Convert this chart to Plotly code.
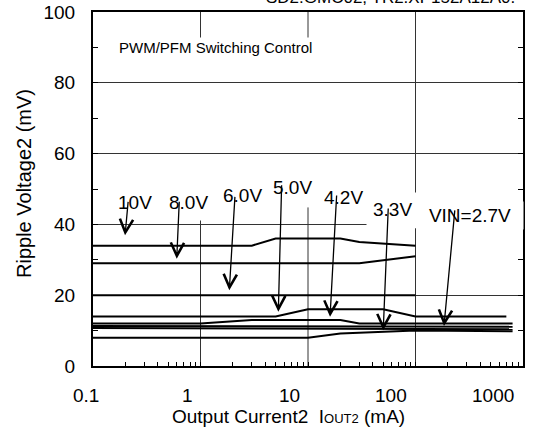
import math
import plotly.graph_objects as go

# ripple voltage (mV) vs output current (mA)
i_10v = [0.1, 3, 5, 20, 30, 100]
v_10v = [34, 34, 36, 36, 35, 34]
i_8v = [0.1, 30, 100]
v_8v = [29, 29, 31]
i_6v = [0.1, 100]
v_6v = [20, 20]
i_5v = [0.1, 5, 10, 50, 100, 700]
v_5v = [14, 14, 16, 16, 14, 14]
i_42v = [0.1, 1, 3, 20, 30, 800]
v_42v = [12, 12, 13, 13, 12, 12]
i_33v = [0.1, 800]
v_33v = [11.3, 11.1]
i_27v = [0.1, 800]
v_27v = [10.7, 10.4]
i_27v_b = [0.1, 10, 20, 100, 800]
v_27v_b = [8, 8, 9.2, 10, 9.8]

curves = [
    ("10V", i_10v, v_10v),
    ("8.0V", i_8v, v_8v),
    ("6.0V", i_6v, v_6v),
    ("5.0V", i_5v, v_5v),
    ("4.2V", i_42v, v_42v),
    ("3.3V", i_33v, v_33v),
    ("2.7V", i_27v, v_27v),
    ("2.7V b", i_27v_b, v_27v_b),
]

x_tick_vals = [0.1, 1, 10, 100, 1000]
x_tick_text = ["0.1", "1", "10", "100", "1000"]

# label text, label centre (log10 mA, mV), arrow tail, arrow tip
labels = ["10V", "8.0V", "6.0V", "5.0V", "4.2V", "3.3V", "VIN=2.7V"]
label_pos = [(-0.614, 46.1), (-0.113, 46.1), (0.395, 48.3), (0.856, 50.3),
             (1.326, 47.7), (1.786, 44.1), (2.507, 42.4)]
arrow_tail = [(-0.672, 46.8), (-0.197, 46.8), (0.321, 48.2), (0.755, 51.5),
              (1.267, 48.6), (1.747, 44.9), (2.367, 44.4)]
arrow_tip = [(-0.702, 36.9), (-0.221, 30.3), (0.268, 21.4), (0.724, 15.3),
             (1.205, 13.9), (1.70, 10.1), (2.265, 11.3)]

FONT = "Arial, Liberation Sans, sans-serif"

fig = go.Figure()
for name, xs, ys in curves:
    fig.add_trace(go.Scatter(x=xs, y=ys, mode="lines", name=name,
                             line=dict(color="black", width=2), showlegend=False))

annotations = []
for i, txt in enumerate(labels):
    a = dict(x=label_pos[i][0], y=label_pos[i][1], xref="x", yref="y",
             xanchor="center", yanchor="middle",
             text=txt, showarrow=False, bgcolor="white",
             font=dict(size=19, color="black", family=FONT))
    if txt == "3.3V":
        a.update(borderpad=6)
    if txt == "VIN=2.7V":
        a.update(width=100, borderpad=3)
    annotations.append(a)
for tail, tip in zip(arrow_tail, arrow_tip):
    annotations.append(dict(x=tip[0], y=tip[1], ax=tail[0], ay=tail[1],
                            xref="x", yref="y", axref="x", ayref="y",
                            text="", showarrow=True, arrowhead=5,
                            arrowsize=2, arrowwidth=1.3, arrowcolor="black"))

# x tick labels sit a little left of their ticks in the original
for v, t in zip(x_tick_vals, x_tick_text):
    annotations.append(dict(x=-0.0163 + (math.log10(v) + 1) * 0.2366, y=-0.082,
                            xref="paper", yref="paper", xanchor="center",
                            yanchor="middle", text=t, showarrow=False,
                            font=dict(size=19, color="black", family=FONT)))

annotations += [
    dict(x=0.0558, y=0.901, xref="paper", yref="paper", xanchor="left",
         yanchor="middle",
         text="PWM/PFM Switching Control", showarrow=False, bgcolor="white",
         font=dict(size=15, color="black", family=FONT)),
    dict(x=0.986, y=1.0096, xref="paper", yref="paper", xanchor="right",
         yanchor="bottom", text="SD2:GMC02, TR2:XP152A12A0.", showarrow=False,
         font=dict(size=17, color="black", family=FONT)),
    dict(x=0.4535, y=-0.144, xref="paper", yref="paper", xanchor="center",
         yanchor="middle",
         text="Output Current2  I<span style='font-size:13px'>OUT2</span> (mA)",
         showarrow=False, font=dict(size=19, color="black", family=FONT)),
    dict(x=-0.1605, y=0.517, xref="paper", yref="paper", textangle=-90,
         xanchor="center", yanchor="middle",
         text="Ripple Voltage2 (mV)", showarrow=False,
         font=dict(size=20, color="black", family=FONT)),
]

# vertical grid pieces (the chart hides them behind the text boxes)
vgrid = [(1, 0, 41.1), (1, 92.4, 100), (10, 0, 44.8), (10, 92.4, 100),
         (100, 0, 38.9), (100, 48.7, 100)]
shapes = [dict(type="line", xref="x", yref="y", x0=gx, x1=gx, y0=y0, y1=y1,
               line=dict(color="#333333", width=1), layer="below")
          for gx, y0, y1 in vgrid]

fig.update_layout(
    width=555, height=443,
    margin=dict(l=93, r=32, t=12, b=77),
    paper_bgcolor="white", plot_bgcolor="white",
    font=dict(family=FONT, color="black", size=19),
    annotations=annotations, shapes=shapes,
    xaxis=dict(type="log", range=[-1, 3], showgrid=False, zeroline=False,
               automargin=False,
               showline=True, linecolor="black", linewidth=2, mirror=True,
               tickvals=x_tick_vals, showticklabels=False,
               ticks="inside", ticklen=0,
               minor=dict(ticks="inside", ticklen=4, tickcolor="black",
                          dtick="D1", showgrid=False)),
    yaxis=dict(range=[0, 100], dtick=20, showgrid=True, gridcolor="#333333",
               gridwidth=1, zeroline=False, showline=True, linecolor="black",
               automargin=False, ticklabeloverflow="allow",
               linewidth=2, mirror="ticks", ticks="inside", ticklen=5,
               tickcolor="black", ticklabelstandoff=12, tickfont=dict(size=19),
               minor=dict(ticks="inside", ticklen=5, dtick=10, tickcolor="black",
                          showgrid=False)),
)

# drop the default body margin so the figure fills the window
fig.write_html("out.html", config={"displayModeBar": False},
               post_script="document.body.style.margin='0';")
